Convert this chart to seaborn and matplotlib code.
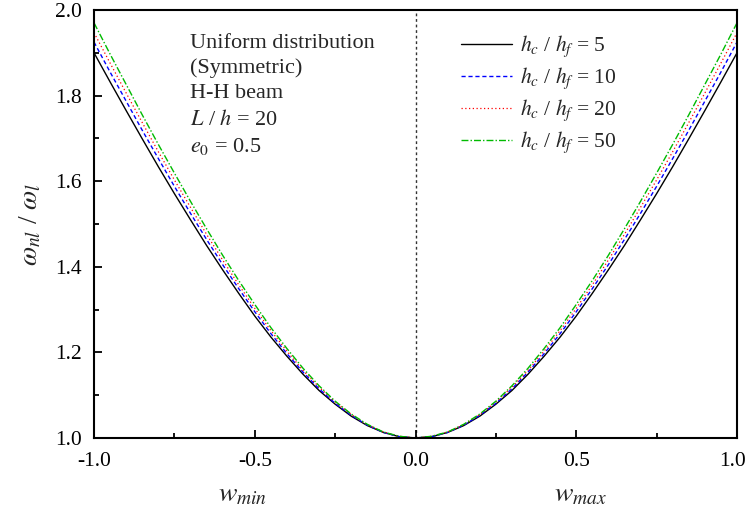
import numpy as np
import pandas as pd
import seaborn as sns
import matplotlib
matplotlib.use("Agg")
import matplotlib.pyplot as plt
import matplotlib.transforms as mtransforms
from matplotlib.ticker import MultipleLocator

# amplitude values (right half; left half is the symmetric mirror w_min)
w_half = [0.00, 0.05, 0.10, 0.15, 0.20, 0.25, 0.30, 0.35, 0.40, 0.45, 0.50,
          0.55, 0.60, 0.65, 0.70, 0.75, 0.80, 0.85, 0.90, 0.95, 1.00]
ratio_h5 = [1.000, 1.003, 1.013, 1.029, 1.051, 1.079, 1.111, 1.149, 1.191, 1.236, 1.285,
            1.338, 1.393, 1.450, 1.510, 1.571, 1.634, 1.699, 1.765, 1.832, 1.900]
ratio_h10 = [1.000, 1.003, 1.013, 1.030, 1.053, 1.081, 1.115, 1.154, 1.197, 1.244, 1.295,
             1.349, 1.405, 1.464, 1.525, 1.588, 1.653, 1.719, 1.787, 1.855, 1.925]
ratio_h20 = [1.000, 1.004, 1.014, 1.031, 1.055, 1.084, 1.119, 1.158, 1.203, 1.251, 1.303,
             1.358, 1.416, 1.476, 1.539, 1.603, 1.669, 1.737, 1.806, 1.876, 1.947]
ratio_h50 = [1.000, 1.004, 1.014, 1.032, 1.056, 1.086, 1.122, 1.163, 1.209, 1.258, 1.312,
             1.368, 1.427, 1.489, 1.553, 1.619, 1.686, 1.755, 1.826, 1.897, 1.970]
series_labels = [r'$h_c$ / $h_f$ = 5', r'$h_c$ / $h_f$ = 10',
                 r'$h_c$ / $h_f$ = 20', r'$h_c$ / $h_f$ = 50']
series_values = [ratio_h5, ratio_h10, ratio_h20, ratio_h50]
xtick_labels = ['-1.0', '-0.5', '0.0', '0.5', '1.0']

sns.set_style("ticks")
plt.rcParams['font.family'] = ['Liberation Serif', 'DejaVu Serif']
plt.rcParams['mathtext.fontset'] = 'stix'

fig = plt.figure(figsize=(7.48, 5.19), dpi=100)
ax = fig.add_axes([0.1257, 0.1561, 0.8596, 0.8246])

colors = ['black', '#0000ff', '#ff0000', '#00bb00']
styles = ['-', (0, (3, 2)), (0, (1, 2)), (0, (5, 1.5, 1, 1.5))]
widths = [1.0, 1.0, 0.9, 1.0]

for lab, vals, c, ls, lw in zip(series_labels, series_values, colors, styles, widths):
    w = [-x for x in w_half[::-1]] + w_half[1:]
    r = vals[::-1] + vals[1:]
    df = pd.DataFrame({'w': w, 'r': r})
    sns.lineplot(data=df, x='w', y='r', ax=ax, color=c, linestyle=ls,
                 linewidth=lw, label=lab, sort=False)

ax.axvline(0.0, color='#333333', linestyle=(0, (2, 2)), linewidth=1.0, zorder=0)

ax.set_xlim(-1.0, 1.0)
ax.set_ylim(1.0, 2.0)
ax.xaxis.set_minor_locator(MultipleLocator(0.25))
ax.yaxis.set_major_locator(MultipleLocator(0.2))
ax.yaxis.set_minor_locator(MultipleLocator(0.1))
ax.set_xticks([-1.0, -0.5, 0.0, 0.5, 1.0])
ax.set_xticklabels(xtick_labels)
ax.tick_params(which='both', direction='in', top=False, right=False,
               labelsize=15.5, width=1.3, colors='black')
ax.tick_params(axis='x', pad=10)
ax.tick_params(axis='y', pad=9)
ax.tick_params(which='major', length=6)
ax.tick_params(which='minor', length=3.5)
for s in ax.spines.values():
    s.set_linewidth(1.5)
    s.set_color('black')

# nudge the last x tick label slightly inward so it stays inside the canvas
last = ax.get_xticklabels()[-1]
last.set_transform(last.get_transform() +
                   mtransforms.ScaledTranslation(-4 / 100, 0, fig.dpi_scale_trans))

ax.set_xlabel('')
ax.set_ylabel(r'$\omega_{nl}$ / $\omega_l$', fontsize=20, labelpad=8)

fig.text(243 / 748, 1 - 495 / 519, r'$w_{min}$', fontsize=20, ha='center', va='center')
fig.text(580 / 748, 1 - 495 / 519, r'$w_{max}$', fontsize=20, ha='center', va='center')

ax.text(-0.70, 1.945, 'Uniform distribution\n(Symmetric)\nH-H beam\n$L$ / $h$ = 20\n$e_0$ = 0.5',
        fontsize=16, ha='left', va='top', linespacing=1.42)

leg = ax.legend(loc='upper left', bbox_to_anchor=(0.54, 0.99), frameon=False,
                fontsize=15.5, handlelength=2.4, labelspacing=0.3, handletextpad=0.35)

fig.savefig('out.png', dpi=100)
